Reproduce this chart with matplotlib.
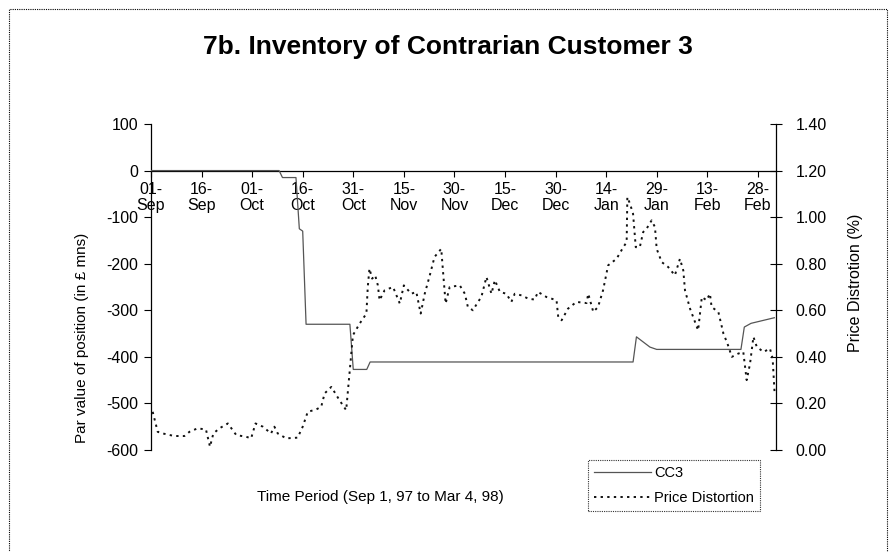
import matplotlib
matplotlib.use("Agg")
import matplotlib.pyplot as plt
import matplotlib.dates as mdates
from matplotlib.patches import Rectangle
import datetime as dt

plt.rcParams['font.family'] = ['Liberation Sans', 'DejaVu Sans']

# ---- data (x = days since 1 Sep 1997) ----
start_date = dt.date(1997, 9, 1)

cc3_days = [0, 38, 39, 43, 44, 45, 46, 59, 60, 64, 65, 143, 144, 148, 150, 175, 176, 178, 184.9]
cc3_values = [0, 0, -15, -15, -125, -130, -330, -330, -427, -427, -411, -411, -357, -379, -384, -384, -336, -328, -316]

pd_days = [0.5, 2.0, 3.5, 6.9, 9.9, 11.4, 13.8, 16.3, 17.5, 18.5, 20.3, 22.8, 25.3, 28.2, 29.7,
           31.0, 33.2, 35.6, 36.6, 37.6, 40.1, 43.5, 45.0, 46.5, 49.0, 50.5, 51.5, 53.5, 55.9, 57.9,
           59.9, 61.9, 63.9, 64.3, 64.8, 65.6, 66.5, 67.3, 67.8, 69.3, 71.8, 73.8, 75.0, 77.2, 78.7,
           80.0, 81.2, 82.7, 84.1, 86.1, 86.6, 87.4, 88.6, 91.6, 93.1, 94.0, 95.5, 97.0, 98.0, 99.5,
           101.0, 102.0, 103.5, 105.4, 106.9, 107.9, 109.9, 111.9, 113.8, 114.8, 117.3, 120.3, 120.8,
           121.8, 123.7, 126.2, 129.2, 129.7, 131.2, 132.6, 134.1, 135.6, 138.1, 140.1, 141.1, 141.3,
           142.1, 143.0, 143.8, 145.0, 146.0, 147.0, 148.5, 149.5, 150.0, 151.5, 153.4, 155.4, 156.9,
           157.9, 158.4, 159.9, 162.3, 163.4, 164.8, 165.8, 166.3, 168.3, 169.8, 171.0, 172.3, 174.2,
           175.7, 176.7, 177.7, 178.7, 179.7, 181.7, 183.6, 184.4, 185.0]
pd_values = [0.164, 0.078, 0.071, 0.060, 0.060, 0.078, 0.093, 0.088, 0.014, 0.071, 0.093, 0.114, 0.064, 0.057, 0.050,
             0.114, 0.100, 0.071, 0.100, 0.071, 0.050, 0.053, 0.100, 0.164, 0.174, 0.186, 0.243, 0.271, 0.214, 0.171,
             0.493, 0.543, 0.586, 0.700, 0.779, 0.736, 0.750, 0.707, 0.643, 0.686, 0.700, 0.629, 0.707, 0.671, 0.679,
             0.586, 0.671, 0.750, 0.829, 0.864, 0.771, 0.629, 0.700, 0.707, 0.671, 0.614, 0.600, 0.636, 0.657, 0.743,
             0.671, 0.729, 0.679, 0.671, 0.636, 0.671, 0.664, 0.650, 0.646, 0.679, 0.657, 0.643, 0.571,
             0.557, 0.607, 0.636, 0.631, 0.671, 0.593, 0.614, 0.686, 0.793, 0.821, 0.871, 0.893, 1.086,
             1.057, 1.014, 0.871, 0.871, 0.936, 0.950, 0.986, 0.957, 0.864, 0.807, 0.786, 0.750, 0.821,
             0.771, 0.686, 0.607, 0.514, 0.657, 0.643, 0.671, 0.614, 0.593, 0.500, 0.457, 0.400, 0.414,
             0.421, 0.300, 0.371, 0.486, 0.443, 0.421, 0.436, 0.393, 0.240]

tick_days = [0, 15, 30, 45, 60, 75, 90, 105, 120, 135, 150, 165, 180]
left_ticks = [100, 0, -100, -200, -300, -400, -500, -600]
right_ticks = [0.0, 0.2, 0.4, 0.6, 0.8, 1.0, 1.2, 1.4]

title = "7b. Inventory of Contrarian Customer 3"
left_label = "Par value of position (in £ mns)"
right_label = "Price Distrotion (%)"
x_label = "Time Period (Sep 1, 97 to Mar 4, 98)"

base = mdates.date2num(start_date)
cc3_x = [base + d for d in cc3_days]
pd_x = [base + d for d in pd_days]
tick_x = [base + d for d in tick_days]
tick_labels = [(start_date + dt.timedelta(days=d)).strftime("%d-\n%b") for d in tick_days]

# ---- figure ----
W, H = 896, 552
fig = plt.figure(figsize=(W / 100, H / 100), dpi=100)

# outer dotted border
fig.patches.append(Rectangle((9 / W, -0.05), (887 - 9) / W, 1.05 - 9 / H,
                             transform=fig.transFigure, fill=False,
                             edgecolor='black', linewidth=0.8, linestyle=(0, (1, 1))))

ax = fig.add_axes([151 / W, 1 - 450 / H, (776 - 151) / W, (450 - 124) / H])
ax2 = ax.twinx()

ln1, = ax.plot(cc3_x, cc3_values, color='#555555', linewidth=0.9, label='CC3', zorder=3)
ln2, = ax2.plot(pd_x, pd_values, color='#111111', linewidth=1.4,
                linestyle=(0, (1.2, 2.2)), label='Price Distortion')

ax.set_xlim(base, base + 185.4)
ax.set_ylim(-600, 100)
ax2.set_ylim(0, 1.4)

for s in ['top', 'right']:
    ax.spines[s].set_visible(False)
ax.spines['bottom'].set_position(('data', 0))
ax.spines['bottom'].set_linewidth(0.9)
ax.spines['left'].set_linewidth(0.9)
for s in ['top', 'left', 'bottom']:
    ax2.spines[s].set_visible(False)
ax2.spines['right'].set_linewidth(0.9)

ax.set_xticks(tick_x)
ax.set_xticklabels(tick_labels, fontsize=11.5, linespacing=1.12)
ax.tick_params(axis='x', direction='out', length=4, width=0.8, pad=4)
ax.set_yticks(left_ticks)
ax.set_yticklabels([str(v) for v in left_ticks], fontsize=11.5)
ax.tick_params(axis='y', direction='out', length=5, width=0.8, pad=4)

ax2.set_yticks(right_ticks)
ax2.set_yticklabels([f"{v:.2f}" for v in right_ticks], fontsize=11.5)
ax2.tick_params(axis='y', direction='inout', length=8, width=0.8, pad=10)

fig.text(448 / W, 1 - 47 / H, title, ha='center', va='center', fontsize=19, fontweight='bold')
fig.text(82 / W, 1 - 338 / H, left_label, ha='center', va='center', rotation=90, fontsize=11)
fig.text(855 / W, 1 - 283 / H, right_label, ha='center', va='center', rotation=90, fontsize=11.5)
fig.text(380 / W, 1 - 497 / H, x_label, ha='center', va='center', fontsize=11)

leg = fig.legend([ln1, ln2], ['CC3', 'Price Distortion'],
                 loc='upper left', bbox_to_anchor=(588 / W, 1 - 460 / H),
                 fontsize=10.5, frameon=True, fancybox=False, handlelength=3.9,
                 borderpad=0.4, labelspacing=0.75, handletextpad=0.25, borderaxespad=0)
leg.get_frame().set_edgecolor('black')
leg.get_frame().set_linewidth(0.8)
leg.get_frame().set_linestyle((0, (1, 1)))

fig.savefig("out.png", dpi=100)
